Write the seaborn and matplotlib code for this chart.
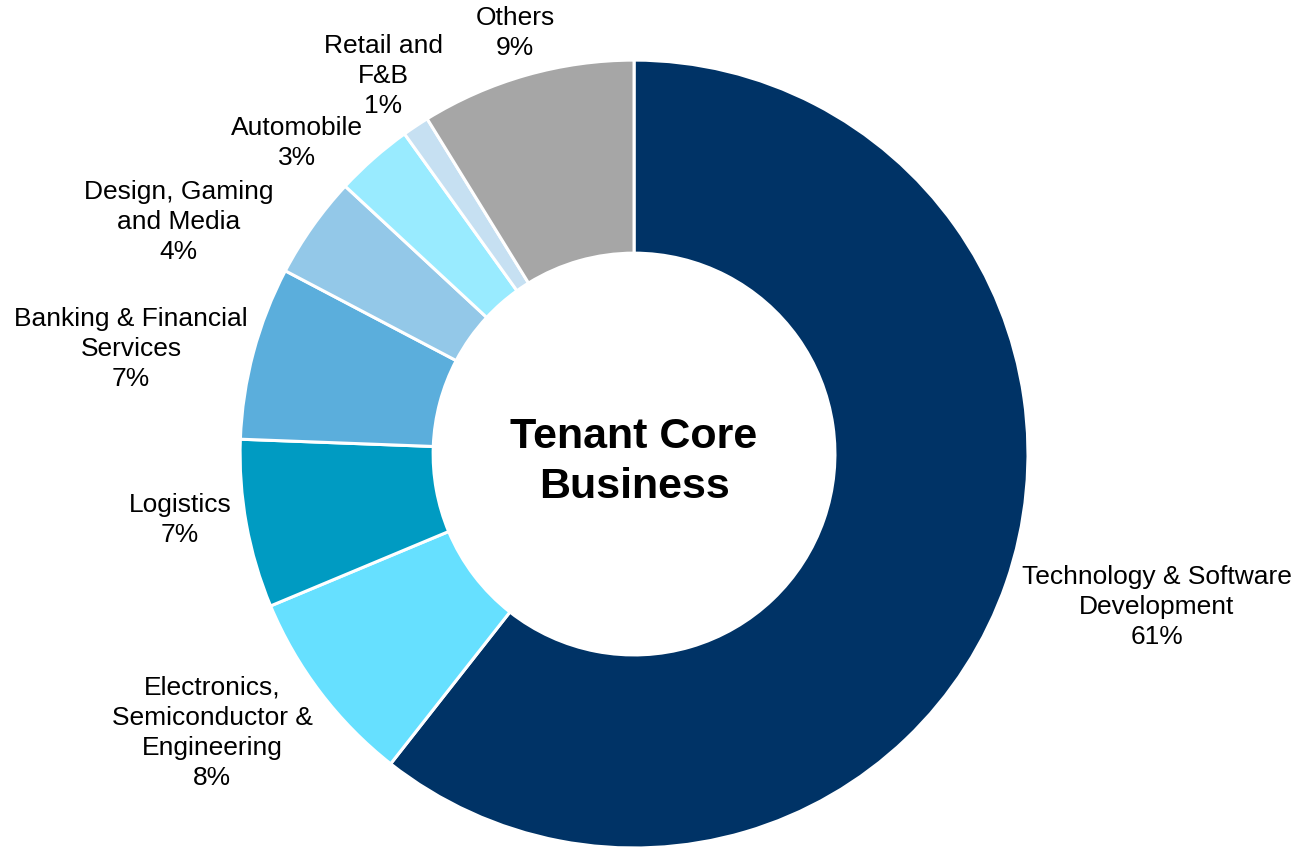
import matplotlib.pyplot as plt
import seaborn as sns

sns.set_style("white")
plt.rcParams['font.family'] = ['Liberation Sans', 'DejaVu Sans']

# slices, clockwise from 12 o'clock
sectors = ["Technology & Software\nDevelopment", "Electronics,\nSemiconductor &\nEngineering",
           "Logistics", "Banking & Financial\nServices", "Design, Gaming\nand Media",
           "Automobile", "Retail and\nF&B", "Others"]
shares = [60.6, 8.1, 6.9, 7.1, 4.2, 3.2, 1.1, 8.8]
colors = ["#003366", "#66E0FF", "#009BC2", "#5BAEDC", "#93C8E8", "#99EBFF", "#C6E0F2", "#A6A6A6"]
# where each label sits, in units of the outer radius
label_xy = [(1.327, -0.388), (-1.071, -0.708), (-1.152, -0.168), (-1.277, 0.266),
            (-1.157, 0.589), (-0.855, 0.789), (-0.637, 0.959), (-0.302, 1.069)]

fig = plt.figure(figsize=(12.99, 8.49), dpi=100)
ax = fig.add_axes([0.1848, 0.0012, 0.6066, 0.928])

wedges, _ = ax.pie(shares, colors=colors, startangle=90, counterclock=False,
                   wedgeprops=dict(width=0.49, edgecolor="white", linewidth=2.2))
ax.set_xlim(-1, 1)
ax.set_ylim(-1, 1)
ax.set_aspect("equal")
ax.axis("off")

for name, pct, (x, y) in zip(sectors, shares, label_xy):
    ax.text(x, y, f"{name}\n{pct:.0f}%", ha="center", va="center", color="black",
            fontsize=19, linespacing=1.32, clip_on=False)

ax.text(0, -0.02, "Tenant Core\nBusiness", ha="center", va="center", color="black",
        fontsize=31, fontweight="bold", linespacing=1.3)

fig.savefig("out.png", dpi=100)
